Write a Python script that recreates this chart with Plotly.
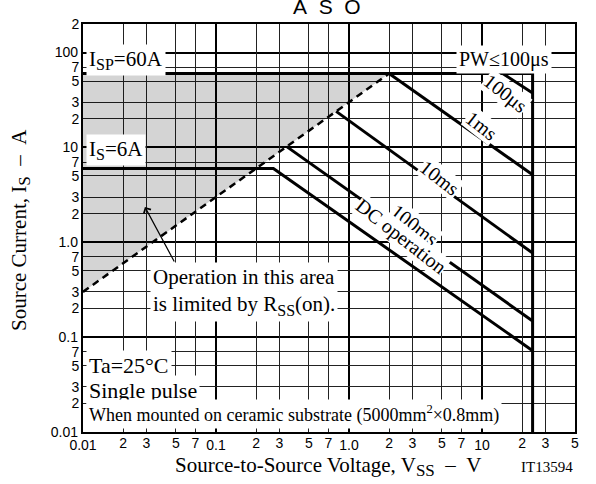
import math
import plotly.graph_objects as go

# ---- data ----
x_minor_ticks = [0.02, 0.03, 0.05, 0.07, 0.2, 0.3, 0.5, 0.7, 2, 3, 5, 7, 20, 30, 50]
x_minor_text = ["2", "3", "5", "7", "2", "3", "5", "7", "2", "3", "5", "7", "2", "3", "5"]
x_decades = [0.01, 0.1, 1, 10]
x_decade_text = ["0.01", "0.1", "1.0", "10"]
y_minor_ticks = [0.02, 0.03, 0.05, 0.07, 0.2, 0.3, 0.5, 0.7, 2, 3, 5, 7, 20, 30, 50, 70, 200]
y_minor_text = ["2", "3", "5", "7", "2", "3", "5", "7", "2", "3", "5", "7", "2", "3", "5", "7", "2"]
y_decades = [0.01, 0.1, 1, 10, 100]
y_decade_text = ["0.01", "0.1", "1.0", "10", "100"]

# R_SS(on) limit (dashed)
rss_v = [0.01, 2.0]
rss_i = [0.3, 60.0]
# I_SP = 60 A pulse limit and V_SS max = 24 V
isp_v = [0.01, 24.0, 24.0]
isp_i = [60.0, 60.0, 0.01]
# I_S = 6 A and DC operation
dc_v = [0.01, 0.27, 24.0]
dc_i = [6.0, 6.0, 0.072]
# pulse-width lines
pw100us_v = [14.3, 24.0]
pw100us_i = [60.0, 37.5]
pw1ms_v = [2.0, 24.0]
pw1ms_i = [60.0, 5.15]
pw10ms_v = [0.8, 24.0]
pw10ms_i = [24.0, 0.77]
pw100ms_v = [0.34, 24.0]
pw100ms_i = [10.2, 0.148]

SERIF = "Liberation Serif"
SANS = "Liberation Sans"
NB = "\u00a0"

fig = go.Figure()

# shaded region limited by R_SS(on)
fig.add_trace(go.Scatter(
    x=[rss_v[0], rss_v[1], isp_v[0]], y=[rss_i[0], rss_i[1], isp_i[0]],
    fill="toself", fillcolor="rgba(0,0,0,0.17)", line=dict(width=0),
    mode="lines", hoverinfo="skip", showlegend=False))

thick = dict(color="black", width=3)
for xs, ys in [(isp_v, isp_i), (dc_v, dc_i), (pw100us_v, pw100us_i), (pw1ms_v, pw1ms_i),
               (pw10ms_v, pw10ms_i), (pw100ms_v, pw100ms_i)]:
    fig.add_trace(go.Scatter(x=xs, y=ys, mode="lines", line=thick, showlegend=False, hoverinfo="skip"))

fig.add_trace(go.Scatter(x=rss_v, y=rss_i, mode="lines",
                         line=dict(color="black", width=2.5, dash="7px,5px"),
                         showlegend=False, hoverinfo="skip"))

# invisible trace that carries the overlay axes used for the decade labels
fig.add_trace(go.Scatter(x=[1], y=[1], xaxis="x2", yaxis="y2", mode="markers",
                         marker=dict(opacity=0), showlegend=False, hoverinfo="skip"))

L, R, T, B = 83, 21, 24, 52
W, H = 596, 484
XR = [math.log10(0.01), math.log10(50)]
YR = [math.log10(0.01), math.log10(200)]

tickfont = dict(family=SANS, size=14, color="black")
fig.update_layout(
    width=W, height=H,
    margin=dict(l=L, r=R, t=T, b=B),
    paper_bgcolor="white", plot_bgcolor="white",
    font=dict(family=SANS, size=14, color="black"),
    xaxis=dict(type="log", range=XR,
               tickmode="array", tickvals=x_minor_ticks, ticktext=x_minor_text,
               ticklabelstandoff=-3,
               showgrid=True, gridcolor="#222", gridwidth=1.2,
               ticks="", showline=True, linecolor="black", linewidth=2, mirror=True,
               zeroline=False, tickfont=tickfont,
               minor=dict(tickmode="array", tickvals=x_decades, showgrid=True,
                          gridcolor="black", gridwidth=2, ticks="")),
    yaxis=dict(type="log", range=YR,
               tickmode="array", tickvals=y_minor_ticks, ticktext=y_minor_text,
               ticklabelstandoff=-1,
               showgrid=True, gridcolor="#222", gridwidth=1.2,
               ticks="", showline=True, linecolor="black", linewidth=2, mirror=True,
               zeroline=False, tickfont=tickfont,
               minor=dict(tickmode="array", tickvals=y_decades, showgrid=True,
                          gridcolor="black", gridwidth=2, ticks="")),
    xaxis2=dict(type="log", range=XR, overlaying="x", anchor="y2", side="bottom",
                tickmode="array", tickvals=x_decades, ticktext=x_decade_text,
                ticklabelstandoff=3, showgrid=False, ticks="", showline=False,
                zeroline=False, tickfont=tickfont),
    yaxis2=dict(type="log", range=YR, overlaying="y", anchor="x2", side="left",
                tickmode="array", tickvals=y_decades, ticktext=y_decade_text,
                ticklabelstandoff=4, showgrid=False, ticks="", showline=False,
                zeroline=False, tickfont=tickfont),
)

def px2paper(px, py):
    return (px - L) / (W - L - R), (H - B - py) / (H - T - B)

def ann_px(text, px, py, size=21, xanchor="left", family=SERIF, bg="white", align="left", **kw):
    x, y = px2paper(px, py)
    fig.add_annotation(text=text, x=x, y=y, xref="paper", yref="paper", xanchor=xanchor,
                       yanchor="middle", showarrow=False, align=align,
                       font=dict(family=family, size=size, color="black"),
                       bgcolor=bg, borderpad=2, **kw)

def sub(t, size=16):
    return "<sub><span style='font-size:%dpx'>%s</span></sub>" % (size, t)

DASH = NB + NB + "–" + NB + NB
ann_px("I" + sub("SP") + "=60A", 86, 60)
ann_px("I" + sub("S") + "=6A", 86, 150)
ann_px("PW≤100μs", 504, 59, size=20, xanchor="center")
ann_px("Operation in this area<br>is limited by R" + sub("SS") + "(on).", 150, 292)
ann_px("Ta=25°C", 86, 365, size=22)
ann_px("Single pulse", 86, 390, size=22)
ann_px("When mounted on ceramic substrate (5000mm<sup>2</sup>×0.8mm)", 86, 414, size=18)
ann_px("IT13594", 547, 467, size=15, xanchor="center", bg=None)
ann_px("Source-to-Source Voltage, V" + sub("SS", 17) + DASH + "V", 328, 467, size=21,
       xanchor="center", bg=None)
ann_px("Source Current, I" + sub("S", 17) + DASH + "A", 20, 230, size=21, xanchor="center",
       bg=None, textangle=-90)
ann_px("A" + NB * 2 + "S" + NB * 2 + "O", 327, 7, size=21, xanchor="center", family=SANS, bg=None)

# rotated pulse-width labels along the lines (positions in log10 data units)
def ann_line(text, v, i, angle=38, size=20):
    fig.add_annotation(text=text, x=math.log10(v), y=math.log10(i), xref="x", yref="y",
                       showarrow=False, textangle=angle, bgcolor="white", borderpad=0,
                       font=dict(family=SERIF, size=size, color="black"))

ann_line("100μs", 14.9, 37.0)
ann_line("1ms", 10.0, 17.0)
ann_line("10ms", 4.83, 4.76)
ann_line("100ms", 3.13, 1.52)
ann_line("DC operation", 2.46, 1.16)

# arrow pointing into the shaded area
fig.add_annotation(x=math.log10(0.0292), y=math.log10(2.36), xref="x", yref="y",
                   ax=math.log10(0.0492), ay=math.log10(0.605), axref="x", ayref="y",
                   text="", showarrow=True, arrowhead=4, arrowsize=1.3, arrowwidth=1.2,
                   arrowcolor="black")

fig.write_html("out.html", config={"displayModeBar": False},
               post_script="document.body.style.margin='0';")
